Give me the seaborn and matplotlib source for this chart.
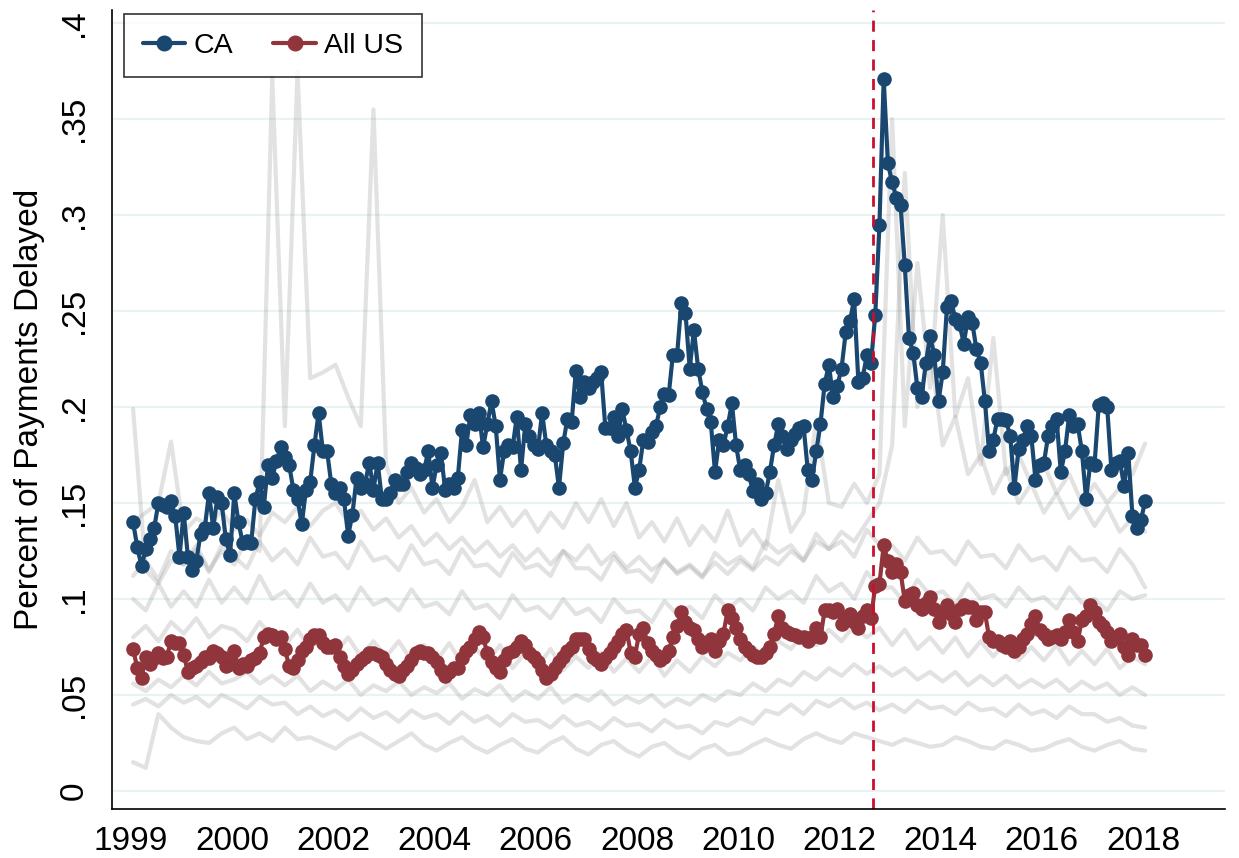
import numpy as np
import pandas as pd
import matplotlib
matplotlib.use('Agg')
import matplotlib.pyplot as plt
import seaborn as sns
from matplotlib.lines import Line2D

# monthly share of delayed payments, one row of 12 per year (first axis tick = start)
ca_delay = [
    .140, .127, .117, .126, .131, .137, .150, .149, .148, .151, .143, .122,
    .145, .122, .115, .120, .134, .137, .155, .137, .153, .150, .131, .123,
    .155, .140, .129, .130, .129, .152, .161, .148, .170, .163, .172, .179,
    .174, .170, .157, .152, .139, .157, .161, .180, .197, .177, .177, .160,
    .155, .158, .152, .133, .144, .163, .158, .160, .171, .157, .171, .152,
    .152, .155, .162, .160, .160, .166, .171, .168, .165, .167, .177, .158,
    .170, .176, .157, .160, .158, .163, .188, .180, .196, .191, .197, .179,
    .191, .203, .190, .162, .177, .180, .179, .195, .167, .191, .185, .180,
    .178, .197, .180, .177, .175, .158, .181, .194, .192, .219, .205, .213,
    .210, .213, .215, .218, .189, .189, .195, .185, .199, .188, .177, .158,
    .167, .183, .182, .187, .190, .200, .207, .206, .227, .227, .254, .249,
    .220, .240, .220, .208, .199, .192, .166, .183, .180, .190, .202, .180,
    .167, .170, .165, .156, .160, .152, .155, .166, .180, .191, .185, .178,
    .183, .186, .189, .190, .167, .162, .177, .191, .212, .222, .205, .211,
    .220, .239, .245, .256, .213, .215, .227, .223, .248, .295, .371, .327,
    .317, .309, .305, .274, .236, .228, .210, .205, .223, .237, .227, .203,
    .218, .252, .255, .246, .243, .233, .247, .244, .230, .223, .203, .177,
    .183, .194, .194, .193, .185, .158, .178, .183, .190, .185, .162, .170,
    .171, .185, .190, .194, .166, .177, .196, .190, .191, .177, .152, .171,
    .170, .201, .202, .200, .167, .171, .172, .159, .176, .143, .137, .141,
    .151,
]

us_delay = [
    .074, .064, .059, .070, .066, .069, .072, .069, .070, .078, .077, .077,
    .071, .062, .064, .065, .067, .070, .069, .073, .072, .070, .065, .066,
    .073, .064, .066, .065, .068, .069, .072, .080, .082, .081, .079, .080,
    .074, .065, .064, .068, .073, .075, .079, .081, .081, .077, .075, .075,
    .076, .070, .065, .061, .063, .066, .068, .070, .072, .072, .071, .070,
    .066, .063, .061, .060, .063, .065, .068, .072, .073, .072, .072, .070,
    .067, .063, .060, .062, .064, .064, .069, .073, .075, .079, .083, .080,
    .072, .067, .064, .062, .068, .072, .073, .075, .078, .076, .072, .070,
    .067, .063, .059, .061, .064, .067, .070, .073, .075, .079, .079, .079,
    .074, .070, .068, .066, .069, .072, .075, .078, .082, .084, .072, .070,
    .082, .085, .077, .073, .071, .068, .070, .073, .080, .086, .093, .088,
    .085, .084, .079, .075, .077, .079, .073, .078, .082, .094, .090, .085,
    .079, .075, .073, .071, .070, .070, .072, .075, .082, .091, .085, .083,
    .082, .081, .080, .080, .078, .080, .085, .080, .094, .094, .093, .095,
    .087, .090, .092, .088, .085, .091, .094, .090, .107, .108, .128, .120,
    .114, .118, .114, .099, .102, .103, .097, .095, .098, .101, .095, .088,
    .093, .097, .092, .088, .095, .097, .096, .096, .089, .093, .093, .080,
    .078, .078, .076, .075, .078, .073, .075, .079, .082, .087, .091, .084,
    .082, .079, .080, .081, .079, .083, .089, .083, .078, .089, .091, .097,
    .093, .088, .086, .083, .078, .080, .082, .075, .071, .079, .076, .076,
    .071,
]

# other states, read off roughly once a quarter (4 per year)
state_1 = [
    .015, .012, .040, .033, .028, .026, .025, .030, .033, .027, .030, .026,
    .033, .027, .028, .025, .022, .027, .030, .026, .022, .026, .030, .024,
    .021, .025, .028, .023, .020, .024, .027, .022, .020, .025, .028, .022,
    .019, .024, .026, .021, .018, .023, .025, .020, .017, .022, .024, .019,
    .020, .024, .027, .024, .022, .027, .030, .027, .025, .030, .028, .026,
    .024, .027, .025, .023, .024, .028, .026, .023, .022, .026, .024, .021,
    .022, .025, .027, .023, .021, .024, .026, .022, .021,
]
state_2 = [
    .045, .048, .044, .050, .046, .049, .044, .050, .047, .043, .049, .045,
    .046, .040, .044, .039, .042, .037, .043, .038, .041, .036, .042, .038,
    .040, .035, .041, .036, .039, .034, .040, .036, .037, .033, .039, .034,
    .036, .032, .038, .034, .035, .031, .037, .033, .034, .030, .036, .034,
    .038, .035, .042, .040, .045, .040, .047, .044, .048, .043, .046, .042,
    .045, .041, .047, .043, .044, .040, .046, .042, .043, .039, .045, .040,
    .042, .038, .044, .040, .040, .036, .038, .034, .033,
]
state_3 = [
    .056, .052, .058, .054, .060, .055, .062, .056, .058, .062, .056, .060,
    .055, .060, .052, .057, .053, .058, .050, .055, .052, .057, .050, .054,
    .051, .056, .048, .053, .050, .055, .047, .052, .048, .054, .046, .050,
    .047, .052, .045, .049, .046, .050, .044, .048, .045, .050, .047, .052,
    .050, .056, .052, .058, .055, .062, .058, .064, .060, .066, .061, .065,
    .060, .064, .058, .062, .057, .062, .055, .060, .055, .060, .054, .058,
    .054, .058, .052, .057, .053, .056, .050, .054, .050,
]
state_4 = [
    .080, .086, .078, .088, .082, .090, .080, .086, .084, .078, .088, .080,
    .076, .084, .074, .082, .072, .080, .070, .078, .070, .078, .068, .076,
    .068, .077, .066, .075, .067, .076, .064, .072, .065, .074, .063, .070,
    .064, .072, .062, .069, .062, .070, .060, .068, .062, .070, .065, .072,
    .068, .075, .070, .078, .074, .082, .076, .084, .078, .086, .080, .085,
    .076, .084, .074, .080, .072, .080, .070, .078, .070, .078, .068, .075,
    .068, .076, .066, .073, .066, .074, .064, .070, .066,
]
state_5 = [
    .100, .094, .108, .096, .104, .096, .110, .098, .106, .098, .112, .100,
    .104, .096, .108, .098, .102, .094, .106, .097, .100, .094, .105, .096,
    .098, .092, .104, .095, .097, .090, .102, .094, .096, .090, .100, .092,
    .095, .088, .100, .093, .094, .088, .099, .092, .096, .090, .102, .095,
    .100, .094, .106, .100, .104, .098, .112, .104, .108, .100, .114, .106,
    .106, .098, .110, .102, .104, .097, .108, .100, .102, .096, .106, .099,
    .101, .095, .106, .098, .100, .094, .104, .100, .102,
]
state_6 = [
    .112, .120, .110, .125, .118, .126, .114, .128, .122, .116, .130, .120,
    .126, .118, .132, .122, .124, .116, .130, .120, .122, .115, .128, .118,
    .120, .113, .126, .117, .118, .112, .124, .116, .118, .112, .125, .116,
    .116, .110, .122, .114, .115, .109, .121, .113, .117, .111, .124, .118,
    .122, .116, .130, .124, .128, .120, .134, .126, .130, .122, .136, .128,
    .128, .120, .132, .124, .125, .118, .130, .122, .123, .116, .128, .120,
    .122, .115, .127, .120, .121, .114, .126, .118, .106,
]
state_7 = [
    .140, .145, .150, .182, .135, .142, .138, .146, .136, .141, .133, .145,
    .140, .148, .138, .146, .150, .140, .146, .136, .142, .132, .138, .128,
    .134, .126, .132, .124, .130, .122, .128, .120, .126, .118, .125, .120,
    .128, .118, .124, .116, .122, .115, .120, .114, .118, .112, .119, .113,
    .120, .115, .122, .118, .125, .120, .130, .126, .135, .130, .140, .150,
    .180, .322, .200, .230, .180, .195, .165, .175, .155, .168, .150, .160,
    .145, .155, .142, .150, .138, .148, .135, .142, .135,
]
state_8 = [
    .199, .115, .108, .120, .118, .128, .115, .125, .118, .132, .125, .372,
    .190, .375, .215, .218, .222, .205, .190, .355, .170, .150, .158, .145,
    .152, .140, .148, .162, .140, .148, .138, .146, .135, .145, .137, .150,
    .140, .152, .138, .150, .132, .140, .130, .142, .128, .138, .130, .146,
    .128, .136, .126, .162, .135, .145, .193, .150, .148, .160, .150, .165,
    .350, .190, .275, .210, .300, .195, .215, .170, .236, .165, .175, .160,
    .170, .155, .165, .150, .160, .150, .158, .165, .181,
]

tick_pos = [1998, 2000, 2002, 2004, 2006, 2008, 2010, 2012, 2014, 2016, 2018]
tick_labels = ['1999', '2000', '2002', '2004', '2006', '2008', '2010', '2012', '2014', '2016', '2018']
ytick_pos = [0, .05, .1, .15, .2, .25, .3, .35, .4]
ytick_labels = ['0', '.05', '.1', '.15', '.2', '.25', '.3', '.35', '.4']
event_date = 2012.66

months = 1998 + (np.arange(len(ca_delay)) + 0.5) / 12
quarters = 1998 + (np.arange(len(state_1)) * 3 + 0.5) / 12

others = [state_1, state_2, state_3, state_4, state_5, state_6, state_7, state_8]
gray = pd.concat([pd.DataFrame({'date': quarters, 'share': s, 'state': i})
                  for i, s in enumerate(others)])
main = pd.DataFrame({'date': np.concatenate([months, months]),
                     'share': ca_delay + us_delay,
                     'series': ['CA'] * len(months) + ['All US'] * len(months)})

sns.set_style('white')
plt.rcParams['font.family'] = ['Liberation Sans', 'DejaVu Sans']
plt.rcParams['text.color'] = 'black'
plt.rcParams['axes.labelcolor'] = 'black'
plt.rcParams['xtick.color'] = 'black'
plt.rcParams['ytick.color'] = 'black'

fig = plt.figure(figsize=(12.39, 8.58), dpi=100)
ax = fig.add_axes([112 / 1239, 49 / 858, 1113 / 1239, 799 / 858])

sns.lineplot(data=gray, x='date', y='share', units='state', estimator=None,
             color='#8c8c8c', alpha=0.25, lw=3, legend=False, ax=ax)

colors = {'CA': '#1a476f', 'All US': '#90353b'}
for name in ['All US', 'CA']:
    sns.lineplot(data=main[main.series == name], x='date', y='share',
                 color=colors[name], marker='o', markersize=10.5, markeredgewidth=0,
                 lw=3, legend=False, ax=ax)

ax.axvline(event_date, color='#c8102e', lw=2, ls=(0, (4, 3)))

ax.set_xlim(1997.625, 2019.62)
ax.set_ylim(-0.0094, 0.4068)
ax.set_xticks(tick_pos)
ax.set_xticklabels(tick_labels)
ax.set_yticks(ytick_pos)
ax.set_yticklabels(ytick_labels, rotation=90, va='center')
ax.tick_params(axis='y', length=12, width=1.2, labelsize=24, pad=4, colors='black')
ax.tick_params(axis='x', length=9, width=1.2, labelsize=24, pad=3, colors='black')
ax.yaxis.grid(True, color='#eaf2f3', lw=1.6)
ax.set_axisbelow(True)
for side in ['top', 'right']:
    ax.spines[side].set_visible(False)
for side in ['left', 'bottom']:
    ax.spines[side].set_linewidth(1.2)
    ax.spines[side].set_color('black')
ax.set_xlabel('')
ax.set_ylabel('Percent of Payments Delayed', fontsize=24, labelpad=10, color='black')

handles = [Line2D([], [], color=colors[n], marker='o', markersize=10.5, lw=3) for n in ['CA', 'All US']]
leg = ax.legend(handles, ['CA', 'All US'], ncol=2, loc='upper left',
                bbox_to_anchor=(124 / 1239, 1 - 14 / 858), bbox_transform=fig.transFigure,
                borderaxespad=0, frameon=True, fancybox=False, edgecolor='black',
                fontsize=20.5, handlelength=1.5, handletextpad=0.3, columnspacing=1.4,
                borderpad=0.65)
leg.get_frame().set_linewidth(1.2)

fig.savefig('out.png', dpi=100)
